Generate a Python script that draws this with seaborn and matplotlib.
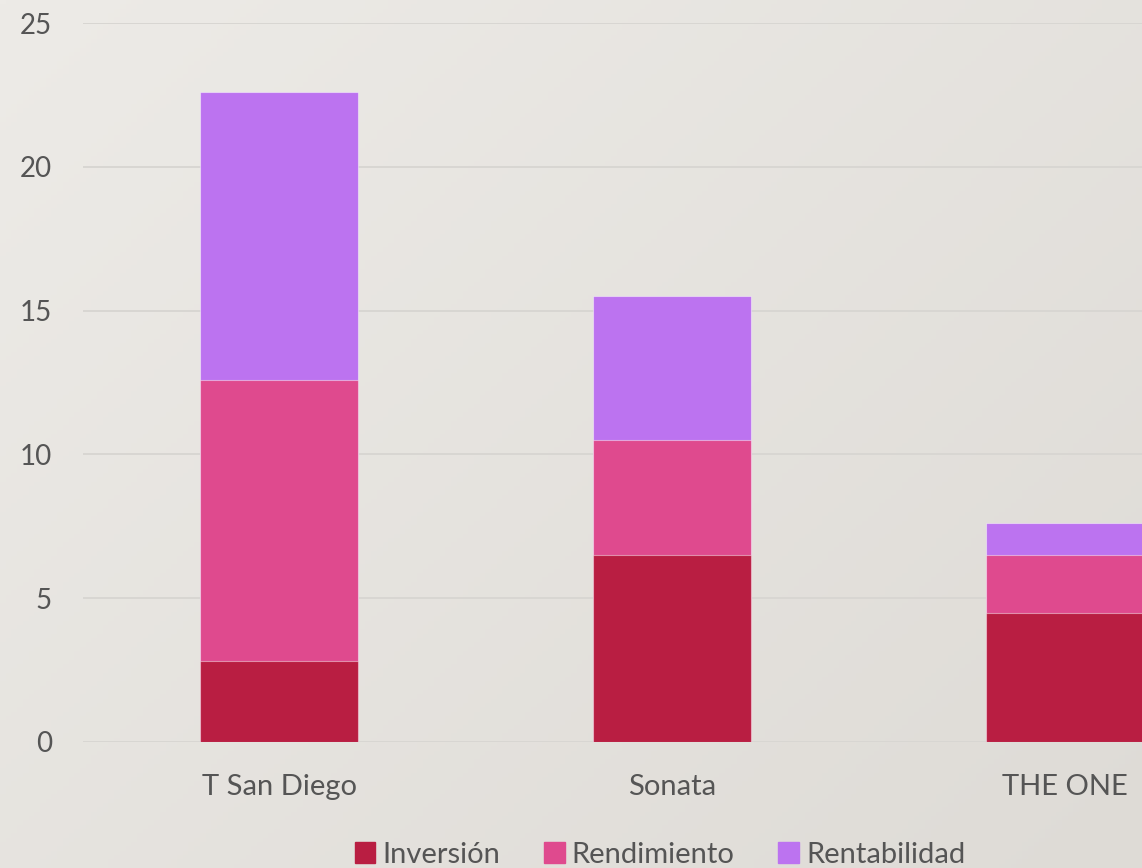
import numpy as np
import pandas as pd
import matplotlib
matplotlib.use("Agg")
import matplotlib.pyplot as plt
import matplotlib.patches as mpatches
import seaborn as sns

# Data
proyectos = ["T San Diego", "Sonata", "THE ONE"]
inversion = [2.8, 6.5, 4.5]
rendimiento = [9.8, 4.0, 2.0]
rentabilidad = [10.0, 5.0, 1.1]

series = ["Inversión", "Rendimiento", "Rentabilidad"]
colores = ["#B91E42", "#DF4A8E", "#BC73F0"]

df = pd.DataFrame({
    "proyecto": proyectos,
    "Inversión": inversion,
    "Rendimiento": rendimiento,
    "Rentabilidad": rentabilidad,
})
# cumulative tops for stacking (draw tallest first)
df["top_inv"] = df["Inversión"]
df["top_ren"] = df["top_inv"] + df["Rendimiento"]
df["top_rent"] = df["top_ren"] + df["Rentabilidad"]

sns.set_style("white")
plt.rcParams["font.family"] = ["Lato", "DejaVu Sans"]
texto = "#555555"

W, H = 1142, 868
fig = plt.figure(figsize=(W / 100, H / 100), dpi=100)

# soft gradient background
bg = fig.add_axes([0, 0, 1, 1], zorder=-5)
yy, xx = np.mgrid[0:1:200j, 0:1:200j]
g = (xx * 0.55 + yy * 0.45)
c0 = np.array([0xED, 0xEB, 0xE7]) / 255
c1 = np.array([0xDE, 0xDB, 0xD6]) / 255
img = c0[None, None, :] * (1 - g[..., None]) + c1[None, None, :] * g[..., None]
bg.imshow(img, aspect="auto", extent=[0, 1, 0, 1], origin="upper")
bg.axis("off")

left = 82.5 / W
bottom = 126 / H
ax = fig.add_axes([left, bottom, 1 - left, 719 / H])
ax.patch.set_alpha(0)

edge = dict(edgecolor=(1, 1, 1, 0.45), linewidth=0.8)
for col, c in zip(["top_rent", "top_ren", "top_inv"], colores[::-1]):
    sns.barplot(data=df, x="proyecto", y=col, color=c, width=0.4,
                saturation=1, ax=ax, zorder=3, **edge)

step = W - W * left  # pixels of axes
cat_px = 393
ax.set_xlim(-0.5, -0.5 + step / cat_px)
ax.set_ylim(0, 25)
ax.set_yticks([0, 5, 10, 15, 20, 25])
ax.yaxis.grid(True, color="#D8D6D2", linewidth=1.4, zorder=0)
ax.set_axisbelow(True)
ax.set_xlabel("")
ax.set_ylabel("")
sns.despine(ax=ax, left=True, bottom=True)
ax.tick_params(axis="y", length=0, pad=22, labelsize=20, labelcolor=texto)
ax.tick_params(axis="x", length=0, pad=23, labelsize=21, labelcolor=texto)

handles = [mpatches.Patch(color=c, label=s) for s, c in zip(series, colores)]
leg = fig.legend(handles=handles, loc="lower center", bbox_to_anchor=(0.578, -0.03),
                 ncol=3, frameon=False, fontsize=21, handlelength=0.7,
                 handleheight=0.7, handletextpad=0.25, columnspacing=1.5)
for t in leg.get_texts():
    t.set_color(texto)

fig.savefig("out.png", dpi=100)
